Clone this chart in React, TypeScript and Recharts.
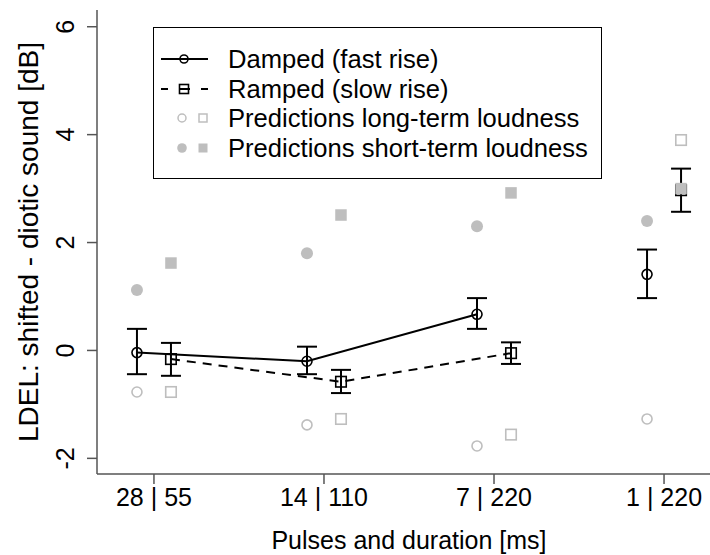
import React from 'react';
import { ComposedChart, Scatter, XAxis, YAxis, ErrorBar, Legend } from 'recharts';

const FONT = '"Liberation Sans", Arial, sans-serif';
const GREY = '#bebebe';

// categories: pulses | duration
const groups = ['28 | 55', '14 | 110', '7 | 220', '1 | 220'];
const groupPos = [1, 2, 3, 4];
const yTicks = [-2, 0, 2, 4, 6];

// measured LDEL, damped (fast rise)
const damped = [-0.04, -0.2, 0.67, 1.41];
const dampedLow = [-0.44, -0.44, 0.4, 0.97];
const dampedHigh = [0.4, 0.07, 0.97, 1.87];

// measured LDEL, ramped (slow rise)
const ramped = [-0.16, -0.58, -0.05, 2.97];
const rampedLow = [-0.47, -0.79, -0.25, 2.57];
const rampedHigh = [0.14, -0.36, 0.15, 3.37];

// model predictions
const longDamped = [-0.77, -1.38, -1.77, -1.27];
const longRamped = [-0.77, -1.27, -1.56, 3.9];
const shortDamped = [1.12, 1.8, 2.3, 2.4];
const shortRamped = [1.62, 2.51, 2.92, 3.0];

const SHIFT = 0.1;

const pts = (vals: number[], shift: number, low?: number[], high?: number[]) =>
  vals.map((v, i) => ({
    x: groupPos[i] + shift,
    y: v,
    err: low && high ? [v - low[i], high[i] - v] : undefined,
  }));

const dampedPts = pts(damped, -SHIFT, dampedLow, dampedHigh);
const rampedPts = pts(ramped, SHIFT, rampedLow, rampedHigh);

const OpenCircle = (color: string, r: number, sw: number) => (p: any) =>
  <circle cx={p.cx} cy={p.cy} r={r} fill="none" stroke={color} strokeWidth={sw} />;
const OpenSquare = (color: string, s: number, sw: number) => (p: any) =>
  <rect x={p.cx - s / 2} y={p.cy - s / 2} width={s} height={s} fill="none" stroke={color} strokeWidth={sw} />;
const Dot = (color: string, r: number) => (p: any) =>
  <circle cx={p.cx} cy={p.cy} r={r} fill={color} />;
const Block = (color: string, s: number) => (p: any) =>
  <rect x={p.cx - s / 2} y={p.cy - s / 2} width={s} height={s} fill={color} />;
const NoShape = () => null;

const XTick = ({ x, y, payload }: any) => (
  <text x={x} y={y + 20} textAnchor="middle" fontSize={25} fontFamily={FONT} fill="#000">
    {groups[payload.value - 1]}
  </text>
);

const YTick = ({ y, payload }: any) => (
  <text x={74} y={y} transform={`rotate(-90 74 ${y})`} textAnchor="middle" fontSize={25} fontFamily={FONT} fill="#000">
    {payload.value}
  </text>
);

const YLabel = ({ viewBox }: any) => {
  const cy = viewBox.y + viewBox.height / 2;
  return (
    <text x={38} y={cy} transform={`rotate(-90 38 ${cy})`} textAnchor="middle" fontSize={28} fontFamily={FONT} fill="#000">
      LDEL: shifted - diotic sound [dB]
    </text>
  );
};

const legendRows = [
  { label: 'Damped (fast rise)', kind: 'damped' },
  { label: 'Ramped (slow rise)', kind: 'ramped' },
  { label: 'Predictions long-term loudness', kind: 'long' },
  { label: 'Predictions short-term loudness', kind: 'short' },
];

const LegendSymbol = ({ kind }: { kind: string }) => {
  if (kind === 'damped')
    return (
      <g>
        <line x1={7} x2={54} y1={15} y2={15} stroke="#000" strokeWidth={2} />
        <circle cx={30} cy={15} r={4} fill="none" stroke="#000" strokeWidth={1.6} />
      </g>
    );
  if (kind === 'ramped')
    return (
      <g>
        <line x1={7} x2={54} y1={15} y2={15} stroke="#000" strokeWidth={2} strokeDasharray="7 11 11 11 7" />
        <rect x={25.5} y={10.5} width={9} height={9} fill="none" stroke="#000" strokeWidth={1.6} />
      </g>
    );
  if (kind === 'long')
    return (
      <g>
        <circle cx={28} cy={15} r={4} fill="none" stroke={GREY} strokeWidth={1.5} />
        <rect x={45} y={11} width={8} height={8} fill="none" stroke={GREY} strokeWidth={1.5} />
      </g>
    );
  return (
    <g>
      <circle cx={28} cy={15} r={4.8} fill={GREY} />
      <rect x={44.5} y={10.5} width={9} height={9} fill={GREY} />
    </g>
  );
};

const LegendBox = () => (
  <div
    style={{
      position: 'relative',
      width: 449,
      height: 152,
      boxSizing: 'border-box',
      border: '1px solid #000',
      background: '#fff',
      fontFamily: FONT,
      fontSize: 25.6,
      color: '#000',
    }}
  >
    {legendRows.map((r, i) => (
      <div key={r.label} style={{ position: 'absolute', left: 0, top: 16 + i * 29.5, height: 30, width: 447 }}>
        <svg width={76} height={30} style={{ position: 'absolute', left: 0, top: 0 }}>
          <LegendSymbol kind={r.kind} />
        </svg>
        <span style={{ position: 'absolute', left: 74, top: 0, lineHeight: '30px', whiteSpace: 'nowrap' }}>
          {r.label}
        </span>
      </div>
    ))}
  </div>
);

export default function App() {
  return (
    <div style={{ position: 'absolute', left: 0, top: 0, width: 710, height: 555, overflow: 'hidden', background: '#fff' }}>
      <ComposedChart width={730} height={555} margin={{ top: 10, right: 9, bottom: 0, left: 0 }}>
        <XAxis
          xAxisId="b"
          type="number"
          dataKey="x"
          domain={[0.665, 4.335]}
          ticks={groupPos}
          allowDataOverflow
          height={81}
          tickSize={10}
          tickLine={{ stroke: '#555', strokeWidth: 1.5 }}
          axisLine={{ stroke: '#555', strokeWidth: 1.5 }}
          tick={<XTick />}
          interval={0}
          label={{ value: 'Pulses and duration [ms]', position: 'insideBottom', offset: 6, fontSize: 25, fill: '#000', fontFamily: FONT }}
        />
        <XAxis
          xAxisId="t"
          orientation="top"
          type="number"
          dataKey="x"
          domain={[0.665, 4.335]}
          allowDataOverflow
          height={0}
          tick={false}
          tickLine={false}
          axisLine={{ stroke: '#555', strokeWidth: 1.5 }}
        />
        <YAxis
          type="number"
          dataKey="y"
          domain={[-2.29, 6.31]}
          ticks={yTicks}
          allowDataOverflow
          width={97}
          tickSize={10}
          tickLine={{ stroke: '#555', strokeWidth: 1.5 }}
          axisLine={{ stroke: '#555', strokeWidth: 1.5 }}
          tick={<YTick />}
          interval={0}
          label={YLabel}
        />
        <Legend
          layout="vertical"
          align="center"
          verticalAlign="middle"
          wrapperStyle={{ position: 'absolute', left: 153, top: 27, width: 449, height: 152 }}
          content={() => <LegendBox />}
        />

        <Scatter
          xAxisId="b"
          name="damped line"
          data={dampedPts.slice(0, 3)}
          shape={NoShape}
          line={{ stroke: '#000', strokeWidth: 2 }}
          isAnimationActive={false}
          legendType="none"
        />
        <Scatter
          xAxisId="b"
          name="ramped line"
          data={rampedPts.slice(0, 3)}
          shape={NoShape}
          line={{ stroke: '#000', strokeWidth: 2, strokeDasharray: '9 7' }}
          isAnimationActive={false}
          legendType="none"
        />
        <Scatter xAxisId="b" name="Damped (fast rise)" data={dampedPts} shape={OpenCircle('#000', 5, 1.6)} isAnimationActive={false} />
        <Scatter xAxisId="b" name="Ramped (slow rise)" data={rampedPts} shape={OpenSquare('#000', 10.5, 1.6)} isAnimationActive={false} />

        <Scatter xAxisId="b" name="short damped" data={pts(shortDamped, -SHIFT)} shape={Dot(GREY, 6)} isAnimationActive={false} legendType="none" />
        <Scatter xAxisId="b" name="short ramped" data={pts(shortRamped, SHIFT)} shape={Block(GREY, 11.5)} isAnimationActive={false} legendType="none" />
        <Scatter xAxisId="b" name="long damped" data={pts(longDamped, -SHIFT)} shape={OpenCircle(GREY, 5, 1.6)} isAnimationActive={false} legendType="none" />
        <Scatter xAxisId="b" name="long ramped" data={pts(longRamped, SHIFT)} shape={OpenSquare(GREY, 10.5, 1.6)} isAnimationActive={false} legendType="none" />

        <Scatter xAxisId="b" name="damped err" data={dampedPts} shape={NoShape} isAnimationActive={false} legendType="none">
          <ErrorBar dataKey="err" direction="y" width={10} stroke="#000" strokeWidth={2} />
        </Scatter>
        <Scatter xAxisId="b" name="ramped err" data={rampedPts} shape={NoShape} isAnimationActive={false} legendType="none">
          <ErrorBar dataKey="err" direction="y" width={10} stroke="#000" strokeWidth={2} />
        </Scatter>
      </ComposedChart>
    </div>
  );
}
